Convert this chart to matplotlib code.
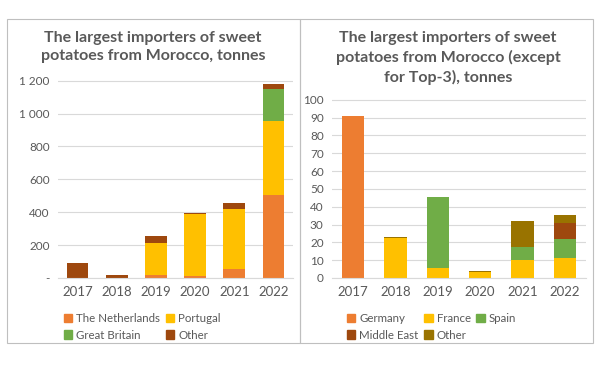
import numpy as np
import matplotlib
matplotlib.use("Agg")
from matplotlib import pyplot as plt
from matplotlib.patches import Rectangle, Patch
from matplotlib.ticker import FuncFormatter

plt.rcParams['font.family'] = ['Lato', 'DejaVu Sans']

years = ['2017', '2018', '2019', '2020', '2021', '2022']

# left chart: top importers, tonnes
netherlands = [0, 0, 18, 14, 57, 505]
portugal = [0, 0, 192, 376, 365, 450]
great_britain = [0, 0, 0, 0, 0, 192]
other_left = [90, 20, 47, 5, 37, 35]

# right chart: except top-3, tonnes
germany = [91, 0, 0, 0, 0, 0]
france = [0, 22.5, 5.5, 3.5, 10, 11.2]
spain = [0, 0, 40, 0, 7.6, 10.8]
middle_east = [0, 0, 0, 0, 0, 9]
other_right = [0, 0.3, 0, 0.5, 14.5, 4.6]

C_ORANGE = '#ED7D31'
C_GOLD = '#FFC000'
C_GREEN = '#70AD47'
C_BROWN = '#9E480E'
C_OLIVE = '#997300'
TXT = '#595959'
GRID = '#D9D9D9'

fig = plt.figure(figsize=(6, 3.65), dpi=100)

# panel frames
for x0 in (7 / 600, 300 / 600):
  fig.patches.append(Rectangle((x0, 1 - 343 / 365), 293 / 600, 324 / 365,
                               transform=fig.transFigure, fill=False,
                               edgecolor='#BFBFBF', lw=0.8))


def stack(ax, series, colors, labels, width=0.55):
  x = np.arange(len(years))
  bottom = np.zeros(len(years))
  for vals, col, lab in zip(series, colors, labels):
    vals = np.array(vals, dtype=float)
    ax.bar(x, vals, width, bottom=bottom, color=col, label=lab)
    bottom += vals
  ax.set_xticks(x)
  ax.set_xticklabels(years, fontsize=9.5, color=TXT)
  ax.set_xlim(-0.5, len(years) - 0.5)
  for s in ('top', 'right', 'left'):
    ax.spines[s].set_visible(False)
  ax.spines['bottom'].set_color(GRID)
  ax.tick_params(axis='both', length=0, pad=6)
  ax.tick_params(axis='y', labelsize=8.5, labelcolor=TXT)
  ax.yaxis.grid(True, color=GRID, lw=0.8)
  ax.set_axisbelow(True)


legend_kw = dict(frameon=False, fontsize=8.3, handlelength=0.7,
                 handleheight=0.7, handletextpad=0.35, columnspacing=0.5,
                 labelspacing=0.45, labelcolor=TXT)
title_kw = dict(ha='center', va='center', fontsize=11.5, fontweight='bold',
                color=TXT, linespacing=1.4)

# left chart
ax1 = fig.add_axes([58 / 600, 1 - 278 / 365, 235 / 600, 199 / 365])
stack(ax1, [netherlands, portugal, great_britain, other_left],
      [C_ORANGE, C_GOLD, C_GREEN, C_BROWN],
      ['The Netherlands', 'Portugal', 'Great Britain', 'Other'])
ax1.set_ylim(0, 1210)
ax1.set_yticks(range(0, 1201, 200))
ax1.yaxis.set_major_formatter(FuncFormatter(
  lambda v, p: '-' if v == 0 else '{:,}'.format(int(v)).replace(',', ' ')))
fig.text(153 / 600, 1 - 47 / 365,
         'The largest importers of sweet\npotatoes from Morocco, tonnes',
         **title_kw)
h1 = [Patch(color=c) for c in (C_ORANGE, C_GREEN, C_GOLD, C_BROWN)]
fig.legend(h1, ['The Netherlands', 'Great Britain', 'Portugal', 'Other'],
           ncol=2, loc='upper left', bbox_to_anchor=(54 / 600, 1 - 303 / 365),
           **legend_kw)

# right chart
ax2 = fig.add_axes([332 / 600, 1 - 278 / 365, 254 / 600, 180 / 365])
stack(ax2, [germany, france, spain, middle_east, other_right],
      [C_ORANGE, C_GOLD, C_GREEN, C_BROWN, C_OLIVE],
      ['Germany', 'France', 'Spain', 'Middle East', 'Other'], width=0.53)
ax2.set_ylim(0, 101)
ax2.set_yticks(range(0, 101, 10))
fig.text(448 / 600, 1 - 58 / 365,
         'The largest importers of sweet\npotatoes from Morocco (except\nfor Top-3), tonnes',
         **title_kw)
h2 = [Patch(color=c) for c in (C_ORANGE, C_BROWN, C_GOLD, C_OLIVE, C_GREEN)]
fig.legend(h2, ['Germany', 'Middle East', 'France', 'Other', 'Spain'],
           ncol=3, loc='upper left', bbox_to_anchor=(337 / 600, 1 - 303 / 365),
           **legend_kw)

fig.savefig('out.png', dpi=100)
